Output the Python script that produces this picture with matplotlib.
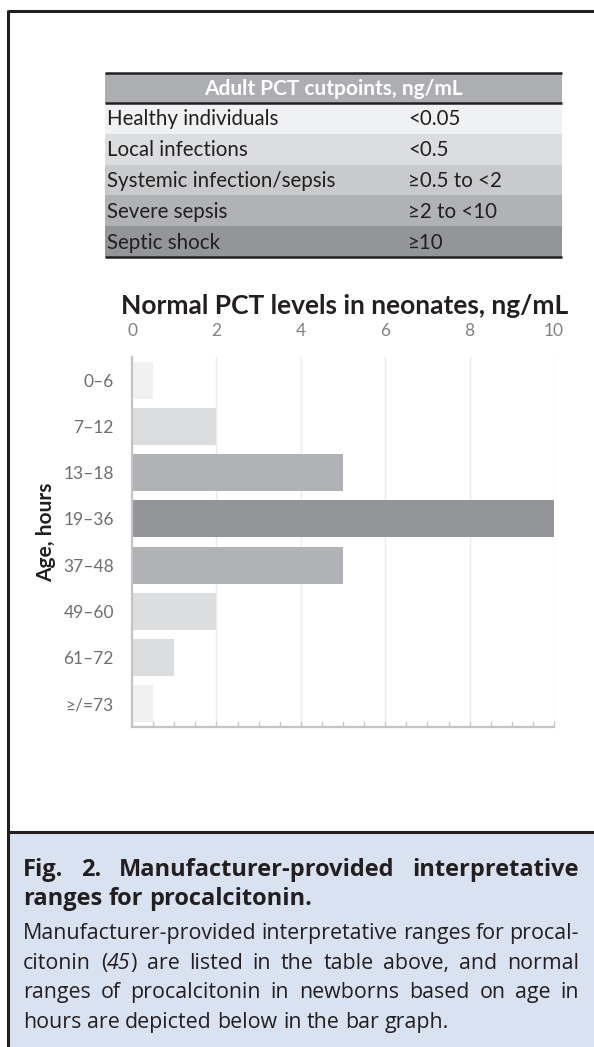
import matplotlib
matplotlib.use("Agg")
import matplotlib.pyplot as plt
from matplotlib.patches import Rectangle
from matplotlib.lines import Line2D

# ---------------- data ----------------
table_header = "Adult PCT cutpoints, ng/mL"
table_labels = ["Healthy individuals", "Local infections", "Systemic infection/sepsis",
                "Severe sepsis", "Septic shock"]
table_values = ["<0.05", "<0.5", "\u22650.5 to <2", "\u22652 to <10", "\u226510"]

chart_title = "Normal PCT levels in neonates, ng/mL"
age_groups = ["0\u20136", "7\u201312", "13\u201318", "19\u201336", "37\u201348",
              "49\u201360", "61\u201372", "\u2265/=73"]
pct_levels = [0.5, 2, 5, 10, 5, 2, 1, 0.5]
x_ticks = [0, 2, 4, 6, 8, 10]
y_label = "Age, hours"

caption_title_lines = ["Fig. 2. Manufacturer-provided interpretative",
                       "ranges for procalcitonin."]
caption_body_lines = [
    [[("Manufacturer-provided", "normal")], [("interpretative", "normal")], [("ranges", "normal")],
     [("for", "normal")], [("procal-", "normal")]],
    [[("citonin", "normal")], [("(", "normal"), ("45", "italic"), (")", "normal")], [("are", "normal")],
     [("listed", "normal")], [("in", "normal")], [("the", "normal")], [("table", "normal")],
     [("above,", "normal")], [("and", "normal")], [("normal", "normal")]],
    [[("ranges", "normal")], [("of", "normal")], [("procalcitonin", "normal")], [("in", "normal")],
     [("newborns", "normal")], [("based", "normal")], [("on", "normal")], [("age", "normal")],
     [("in", "normal")]],
    [[("hours", "normal")], [("are", "normal")], [("depicted", "normal")], [("below", "normal")],
     [("in", "normal")], [("the", "normal")], [("bar", "normal")], [("graph.", "normal")]],
]

# ---------------- style ----------------
W, H = 594, 1047
DPI = 100
DARK = "#231f20"
row_colors = ["#f0f1f2", "#dcdddf", "#c9cacc", "#b1b2b5", "#939598"]
header_color = "#adaeb2"
level_colors = {0.5: "#f0f1f2", 1: "#dcdddf", 2: "#dcdddf", 5: "#b1b2b5", 10: "#939598"}
caption_bg = "#d9e2f0"

fig = plt.figure(figsize=(W / DPI, H / DPI), dpi=DPI)
fig.patch.set_facecolor("white")


def fx(px):
    return px / W


def fy(py):
    return 1 - py / H


def frect(x0, y0, x1, y1, color, z=0):
    r = Rectangle((fx(x0), fy(y1)), fx(x1) - fx(x0), fy(y0) - fy(y1),
                  transform=fig.transFigure, facecolor=color, edgecolor="none", zorder=z)
    fig.add_artist(r)


def fline(x0, y0, x1, y1, lw, color=DARK, z=5):
    fig.add_artist(Line2D([fx(x0), fx(x1)], [fy(y0), fy(y1)], transform=fig.transFigure,
                          color=color, lw=lw, solid_capstyle="butt", zorder=z))


# ---------------- caption box & frame ----------------
frect(8, 832, W, H, caption_bg, z=0)
fline(8, 11, W, 11, 2.2)
fline(8, 10, 8, H, 2.2)
fline(8, 832, W, 832, 2.2)

# ---------------- table ----------------
tx0, tx1 = 105, 562
ty_top, ty_head = 73, 103
row_h = 30.8
frect(tx0, ty_top, tx1, ty_head, header_color, z=1)
fig.text(fx((tx0 + tx1) / 2), fy((ty_top + ty_head) / 2 + 1), table_header, color="white",
         fontsize=15, fontweight="bold", family="Lato", ha="center", va="center", zorder=3)
for i, (lab, val) in enumerate(zip(table_labels, table_values)):
    y0 = ty_head + i * row_h
    y1 = y0 + row_h
    frect(tx0, y0, tx1, y1, row_colors[i], z=1)
    yc = (y0 + y1) / 2 + 1
    fig.text(fx(107), fy(yc), lab, color=DARK, fontsize=14.8, family="Lato",
             ha="left", va="center", zorder=3)
    fig.text(fx(408), fy(yc), val, color=DARK, fontsize=14.8, family=["Lato", "DejaVu Sans"],
             ha="left", va="center", zorder=3)
ty_bot = ty_head + 5 * row_h
fline(tx0, ty_top, tx1, ty_top, 1.8)
fline(tx0, ty_head, tx1, ty_head, 1.8)
fline(tx0, ty_bot, tx1, ty_bot, 1.8)

# ---------------- bar chart ----------------
ax_l, ax_r, ax_t, ax_b = 132, 554, 357, 727
ax = fig.add_axes([fx(ax_l), fy(ax_b), fx(ax_r) - fx(ax_l), fy(ax_t) - fy(ax_b)])
ax.set_facecolor("none")
ypos = list(range(len(age_groups)))
ax.barh(ypos, pct_levels, height=0.8, color=[level_colors[v] for v in pct_levels], zorder=2)
ax.set_xlim(0, 10)
ax.set_ylim(len(age_groups) - 0.5, -0.5)
ax.set_xticks(x_ticks)
ax.set_xticks([v * 0.5 for v in range(21)], minor=True)
ax.set_xticklabels([str(t) for t in x_ticks], family="Lato", fontsize=12.5, color="#808285")
ax.set_yticks(ypos)
ax.set_yticklabels(age_groups, family=["Lato", "DejaVu Sans"], fontsize=12.5, color="#6d6e71")
ax.tick_params(axis="x", which="both", top=False, bottom=True, labeltop=True, labelbottom=False,
               direction="in", length=4, width=1, color="#c8c8c8", pad=13)
ax.tick_params(axis="y", length=0, pad=13)
ax.grid(axis="x", which="major", color="#ebebeb", lw=1, zorder=0)
ax.set_axisbelow(True)
for s in ["top", "right"]:
    ax.spines[s].set_visible(False)
for s in ["left", "bottom"]:
    ax.spines[s].set_color("#c4c4c4")
    ax.spines[s].set_linewidth(1.6)
    ax.spines[s].set_zorder(3)

fig.text(fx(345), fy(306), chart_title, family="Lato", fontweight="bold", fontsize=19,
         color=DARK, ha="center", va="center")
fig.text(fx(46), fy(532), y_label, family="Lato", fontweight="bold", fontsize=15,
         color=DARK, ha="center", va="center", rotation=90)

# ---------------- caption text ----------------
fig.canvas.draw()
renderer = fig.canvas.get_renderer()
CX0, CX1 = 23, 579


def seg_width(s, style, weight, size):
    t = fig.text(0, 0, s, family="Open Sans", style=style, fontweight=weight, fontsize=size)
    w = t.get_window_extent(renderer).width
    t.remove()
    return w


def draw_line(words, baseline, weight, size, justify):
    widths = []
    for word in words:
        widths.append([seg_width(s, st, weight, size) for s, st in word])
    totals = [sum(w) for w in widths]
    space = seg_width("a a", "normal", weight, size) - seg_width("aa", "normal", weight, size)
    if justify and len(words) > 1:
        gap = ((CX1 - CX0) - sum(totals)) / (len(words) - 1)
    else:
        gap = space
    x = CX0
    for word, ws in zip(words, widths):
        xx = x
        for (s, st), w in zip(word, ws):
            fig.text(fx(xx), fy(baseline), s, family="Open Sans", style=st, fontweight=weight,
                     fontsize=size, color=DARK, ha="left", va="baseline")
            xx += w
        x += sum(ws) + gap


title_words = [[(w, "normal")] for w in caption_title_lines[0].split()]
draw_line(title_words, 876, "bold", 17, True)
draw_line([[(w, "normal")] for w in caption_title_lines[1].split()], 905, "bold", 17, False)
body_baselines = [939, 969, 998, 1028]
for i, (words, b) in enumerate(zip(caption_body_lines, body_baselines)):
    draw_line(words, b, "normal", 15.4, i < len(caption_body_lines) - 1)

fig.savefig("out.png", dpi=DPI, facecolor="white")
